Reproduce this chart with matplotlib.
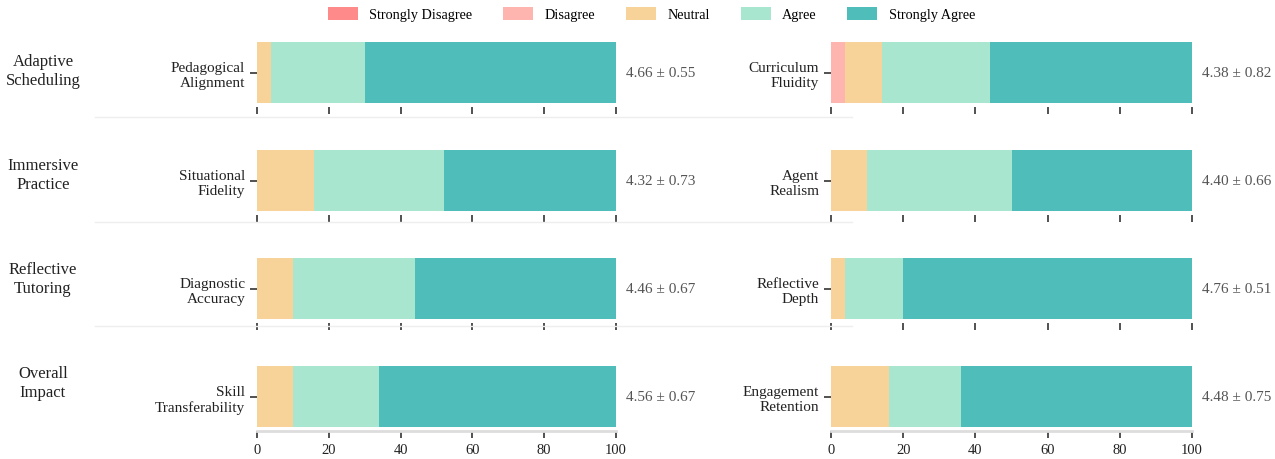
import matplotlib.pyplot as plt
from matplotlib.lines import Line2D
from matplotlib.patches import Patch

plt.rcParams['font.family'] = ['Liberation Serif', 'DejaVu Serif']

levels = ['Strongly Disagree', 'Disagree', 'Neutral', 'Agree', 'Strongly Agree']
colors = ['#FF8A8A', '#FFB5AF', '#F7D399', '#A8E6D0', '#4FBDBA']

groups = ['Adaptive\nScheduling', 'Immersive\nPractice', 'Reflective\nTutoring', 'Overall\nImpact']
left_items = ['Pedagogical\nAlignment', 'Situational\nFidelity', 'Diagnostic\nAccuracy', 'Skill\nTransferability']
right_items = ['Curriculum\nFluidity', 'Agent\nRealism', 'Reflective\nDepth', 'Engagement\nRetention']

# percentages per level (SD, D, N, A, SA)
left_pct = [[0, 0, 4, 26, 70],
            [0, 0, 16, 36, 48],
            [0, 0, 10, 34, 56],
            [0, 0, 10, 24, 66]]
right_pct = [[0, 4, 10, 30, 56],
             [0, 0, 10, 40, 50],
             [0, 0, 4, 16, 80],
             [0, 0, 16, 20, 64]]
left_stats = ['4.66 ± 0.55', '4.32 ± 0.73', '4.46 ± 0.67', '4.56 ± 0.67']
right_stats = ['4.38 ± 0.82', '4.40 ± 0.66', '4.76 ± 0.51', '4.48 ± 0.75']

W, H = 1275, 460
fig = plt.figure(figsize=(W / 100, H / 100), dpi=100)

row_tops = [39, 147, 255, 363]
ax_h = 69
cols = [(257, 359), (831, 361)]


def draw_bar(ax, pct, label, stat, last):
    start = 0
    for v, c in zip(pct, colors):
        ax.barh(0, v, left=start, height=0.88, color=c, linewidth=0)
        start += v
    ax.set_xlim(0, 100)
    ax.set_ylim(-0.5, 0.5)
    ax.set_yticks([0])
    ax.set_yticklabels([label], fontsize=11, color='#222222')
    ax.set_xticks([0, 20, 40, 60, 80, 100])
    for s in ['top', 'right', 'left']:
        ax.spines[s].set_visible(False)
    if last:
        ax.spines['bottom'].set_color('#dddddd')
        ax.spines['bottom'].set_linewidth(2)
        ax.tick_params(axis='x', labelsize=10.5, labelcolor='#222222')
    else:
        ax.spines['bottom'].set_visible(False)
        ax.tick_params(axis='x', labelbottom=False)
    ax.tick_params(axis='both', color='#333333', width=1.2, length=5)
    ax.text(1.028, 0.5, stat, transform=ax.transAxes, ha='left', va='center',
            fontsize=11, color='#555555')


for i in range(4):
    top = row_tops[i]
    for (x0, w), items, pcts, stats in [(cols[0], left_items, left_pct, left_stats),
                                        (cols[1], right_items, right_pct, right_stats)]:
        ax = fig.add_axes([x0 / W, 1 - (top + ax_h) / H, w / W, ax_h / H])
        draw_bar(ax, pcts[i], items[i], stats[i], i == 3)
    yc = 1 - (71.5 + 104 * i) / H
    fig.text(43 / W, yc, groups[i], ha='center', va='center', fontsize=12,
             color='#222222', linespacing=1.3)
    if i < 3:
        ysep = 1 - (118 + 104.5 * i) / H
        fig.add_artist(Line2D([95 / W, 852 / W], [ysep, ysep], color='#eeeeee', lw=1))

handles = [Patch(facecolor=c, edgecolor='none') for c in colors]
fig.legend(handles, levels, loc='upper center', bbox_to_anchor=(0.511, 1.01), ncol=5,
           frameon=False, fontsize=10.3, handlelength=2.1, handleheight=0.95,
           columnspacing=2.15, handletextpad=0.8)

fig.savefig('out.png', dpi=100)
